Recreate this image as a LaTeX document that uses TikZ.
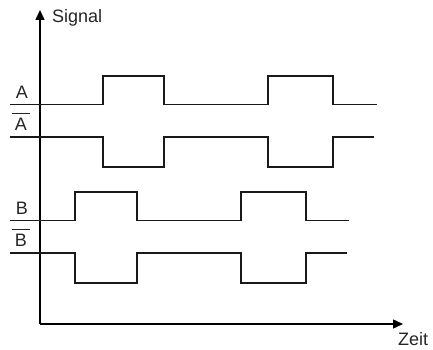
\documentclass[tikz,border=0pt]{standalone}
\usepackage{fontspec}
\setmainfont{Liberation Sans}
\usetikzlibrary{arrows.meta}
\begin{document}
\begin{tikzpicture}[x=1pt,y=-1pt,
  wave/.style={line width=1.3pt, line join=miter, black!90},
  axis/.style={line width=1.4pt, -{Triangle[length=10pt,width=9pt]}},
  lbl/.style={font=\fontsize{18}{20}\selectfont, inner xsep=3pt, inner ysep=0pt, text=black!85},
  bar/.style={line width=0.8pt, black!85}]
\useasboundingbox (0,0) rectangle (433,350);
% axes
\coordinate (o) at (40,324);
\coordinate (ytip) at (40,10);
\coordinate (xtip) at (403,324);
\draw[axis] (o) -- (ytip);
\draw[axis] (o) -- (xtip);
\node[lbl, anchor=base west, inner xsep=0pt] (sig) at (52,23) {Signal};
\node[lbl, anchor=base west, inner xsep=0pt] (zeit) at (398,345.5) {Zeit};
% labels
\node[lbl, anchor=base] (la) at (22,99) {A};
\node[lbl, anchor=base] (lab) at (21,130) {A};
\draw[bar] ([yshift=4.5pt]lab.north west) -- ([yshift=4.5pt]lab.north east);
\node[lbl, anchor=base] (lb) at (22,214.5) {B};
\node[lbl, anchor=base] (lbb) at (21,246) {B};
\draw[bar] ([yshift=4.5pt]lbb.north west) -- ([yshift=4.5pt]lbb.north east);
% waveforms
\draw[wave] (10,104.5) -- (103,104.5) -- (103,76) -- (164,76) -- (164,104.5)
  -- (268,104.5) -- (268,76) -- (333,76) -- (333,104.5) -- (377,104.5);
\draw[wave] (10,137) -- (103,137) -- (103,167) -- (164,167) -- (164,137)
  -- (268,137) -- (268,167) -- (333,167) -- (333,137) -- (374,137);
\draw[wave] (10,220.5) -- (75,220.5) -- (75,192) -- (137,192) -- (137,220.5)
  -- (241,220.5) -- (241,192) -- (306,192) -- (306,220.5) -- (349,220.5);
\draw[wave] (10,253) -- (75,253) -- (75,283) -- (137,283) -- (137,253)
  -- (241,253) -- (241,283) -- (306,283) -- (306,253) -- (347,253);
\end{tikzpicture}
\end{document}
